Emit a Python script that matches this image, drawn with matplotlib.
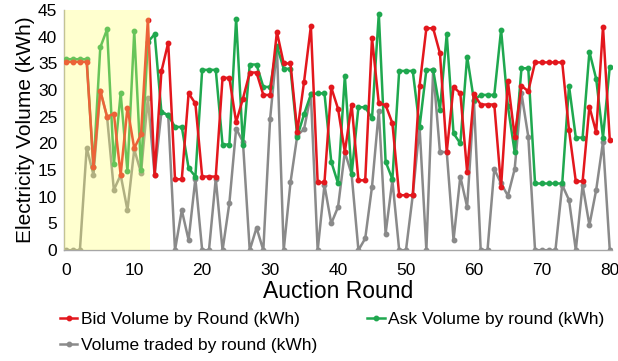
import numpy as np
import matplotlib
matplotlib.use('Agg')
import matplotlib.pyplot as plt

plt.rcParams['font.family'] = ['Liberation Sans', 'DejaVu Sans']

rounds = np.arange(0, 81)

bid_volume = [35.3, 35.3, 35.3, 35.3, 15.6, 29.9, 25.0, 25.6, 14.1, 26.7,
              19.1, 21.7, 43.2, 14.1, 33.5, 38.9, 13.3, 13.3, 29.4, 27.5,
              13.8, 13.8, 13.8, 32.3, 32.3, 24.0, 28.4, 33.3, 33.3, 29.1,
              29.1, 40.9, 35.0, 35.0, 22.2, 31.6, 42.0, 12.7, 12.7, 30.5,
              26.5, 18.4, 27.3, 13.1, 13.1, 39.8, 27.5, 27.2, 23.8, 10.3,
              10.3, 10.3, 30.8, 41.6, 41.6, 36.9, 18.4, 30.6, 29.4, 14.7,
              29.2, 27.3, 27.3, 27.3, 11.9, 31.7, 21.3, 30.8, 29.8, 35.2,
              35.2, 35.2, 35.2, 35.2, 22.5, 12.9, 12.9, 26.9, 22.1, 41.9,
              20.6]

ask_volume = [35.8, 35.8, 35.8, 35.8, 15.5, 38.0, 41.4, 16.1, 29.4, 14.8,
              41.0, 15.0, 39.0, 40.5, 25.9, 25.3, 23.1, 23.1, 15.4, 13.8,
              33.8, 33.8, 33.8, 19.8, 19.8, 43.4, 19.7, 34.8, 34.8, 30.6,
              30.6, 38.3, 34.0, 34.0, 21.3, 25.5, 29.2, 29.4, 29.4, 16.6,
              12.5, 32.7, 14.2, 26.8, 26.8, 24.7, 44.3, 16.6, 13.3, 33.6,
              33.6, 33.6, 23.1, 33.8, 33.8, 26.3, 40.5, 21.9, 20.0, 36.3,
              28.1, 29.1, 29.1, 29.1, 41.3, 27.0, 18.4, 34.1, 34.1, 12.5,
              12.5, 12.5, 12.5, 12.5, 30.8, 21.1, 21.1, 37.2, 32.1, 21.1,
              34.4]

traded_volume = [0, 0, 0, 19.2, 14.1, 29.9, 25.0, 11.3, 14.1, 7.5,
                 18.9, 14.5, 28.5, 14.1, 25.9, 25.3, 0, 7.5, 1.9, 13.4,
                 0, 0, 13.4, 0, 8.8, 22.8, 20.3, 0, 4.2, 0,
                 24.6, 38.0, 0, 12.7, 21.5, 22.7, 29.2, 0, 12.2, 5.0,
                 8.1, 18.4, 14.2, 0, 2.2, 11.9, 26.1, 3.1, 13.1, 0,
                 0, 10.3, 23.1, 0, 33.8, 18.4, 18.4, 1.9, 13.8, 8.1,
                 28.0, 0, 0, 15.2, 12.5, 10.2, 15.2, 29.4, 21.3, 0,
                 0, 0, 0, 12.2, 9.4, 0, 12.2, 4.7, 11.3, 20.3,
                 0]

fig = plt.figure(figsize=(6.18, 3.61), dpi=100)
ax = fig.add_axes([0.104, 0.307, 0.886, 0.665])

style = dict(marker='o', markersize=3.2, linewidth=1.8)
ax.plot(rounds, traded_volume, color='#8a8a8a', label='Volume traded by round (kWh)', zorder=2, **style)
ax.plot(rounds, ask_volume, color='#1fa84f', label='Ask Volume by round (kWh)', zorder=3, **style)
ax.plot(rounds, bid_volume, color='#e3171d', label='Bid Volume by Round (kWh)', zorder=4, **style)

# yellow highlight over the first rounds, drawn on top of the lines
ax.axvspan(-0.3, 12.35, color='#ffff70', alpha=0.33, lw=0, zorder=5)

ax.set_xlim(-0.3, 80.3)
ax.set_ylim(0, 45)
ax.set_xticks(np.arange(0, 81, 10))
ax.set_yticks(np.arange(0, 46, 5))
ax.tick_params(length=0, labelsize=12.5)
ax.tick_params(axis='x', pad=9)
ax.tick_params(axis='y', pad=5)
ax.set_xlabel('Auction Round', fontsize=16.5, labelpad=2)
ax.set_ylabel('Electricity Volume (kWh)', fontsize=15, labelpad=2)

for side in ['top', 'right']:
    ax.spines[side].set_visible(False)
for side in ['left', 'bottom']:
    ax.spines[side].set_color('#a6a6a6')
    ax.spines[side].set_linewidth(1.0)

# legend is filled column by column: bid, traded | ask
handles, labels = ax.get_legend_handles_labels()
order = [2, 0, 1]
fig.legend([handles[i] for i in order], [labels[i] for i in order],
           loc='upper left', bbox_to_anchor=(0.097, 0.135), ncol=2, frameon=False,
           fontsize=12.5, handlelength=1.0, handletextpad=0.2, columnspacing=2.9,
           labelspacing=0.6, borderpad=0, borderaxespad=0)

fig.savefig('out.png', dpi=100)
